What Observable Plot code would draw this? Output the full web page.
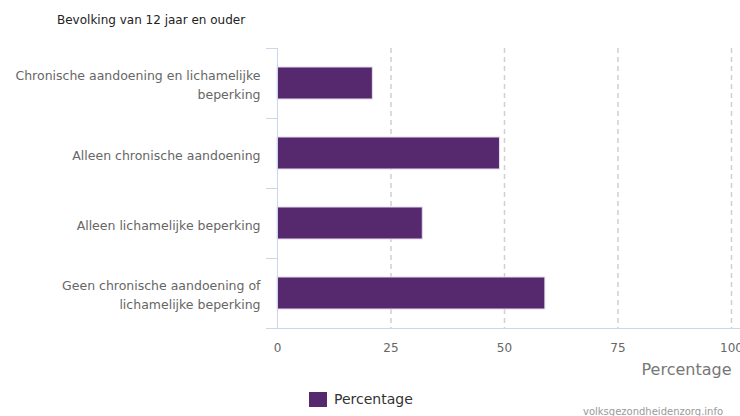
<!DOCTYPE html>
<html>
<head>
<meta charset="utf-8">
<script src="https://cdn.jsdelivr.net/npm/d3@7"></script>
<script src="https://cdn.jsdelivr.net/npm/@observablehq/plot@0.6"></script>
<style>
  html, body { margin: 0; padding: 0; background: #fff; }
  body { width: 740px; height: 416px; position: relative; overflow: hidden; font-family: "DejaVu Sans", Verdana, sans-serif; }
  #title { position: absolute; left: 57px; top: 13px; font-size: 12px; color: #222; z-index: 2; }
  #chart { position: absolute; left: 0; top: 0; z-index: 1; }
  #legend { position: absolute; left: 309px; top: 391px; font-size: 14px; color: #333; display: flex; align-items: center; z-index: 2; }
  #legend .sw { width: 18px; height: 15px; background: #56296e; margin-right: 7px; }
  #credit { position: absolute; left: 583px; top: 406px; font-size: 10px; color: #999; z-index: 2; }
</style>
</head>
<body>
<div id="title">Bevolking van 12 jaar en ouder</div>
<div id="chart"></div>
<div id="legend"><div class="sw"></div><span>Percentage</span></div>
<div id="credit">volksgezondheidenzorg.info</div>
<script>
const categories = [
  "Chronische aandoening en lichamelijke beperking",
  "Alleen chronische aandoening",
  "Alleen lichamelijke beperking",
  "Geen chronische aandoening of lichamelijke beperking"
];
const labels = [
  "Chronische aandoening en lichamelijke\nbeperking",
  "Alleen chronische aandoening",
  "Alleen lichamelijke beperking",
  "Geen chronische aandoening of\nlichamelijke beperking"
];
const values = [21, 49, 32, 59];
const xTicks = [0, 25, 50, 75, 100];
const xLabel = "Percentage";

const data = categories.map((c, i) => ({category: c, value: values[i]}));
const labelOf = new Map(categories.map((c, i) => [c, labels[i]]));

const axisColor = "#ccd6eb";

function bandFrame(index, scales, values, dims) {
  const y = scales.y, x = scales.x;
  const g = d3.create("svg:g");
  const step = y.step ? y.step() : (dims.height - dims.marginTop - dims.marginBottom) / categories.length;
  const bw = y.bandwidth ? y.bandwidth() : 0;
  const x0 = x(0);
  const top = y(categories[0]) - (step - bw) / 2;
  g.append("line").attr("x1", x0 + 0.5).attr("x2", x0 + 0.5)
    .attr("y1", top).attr("y2", top + step * categories.length)
    .attr("stroke", axisColor);
  for (let i = 0; i <= categories.length; i++) {
    const yy = Math.round(top + step * i) + 0.5;
    g.append("line").attr("x1", x0 - 11).attr("x2", x0)
      .attr("y1", yy).attr("y2", yy).attr("stroke", axisColor);
  }
  const yb = Math.round(top + step * categories.length) + 0.5;
  g.append("line").attr("x1", x0 - 11).attr("x2", dims.width)
    .attr("y1", yb).attr("y2", yb).attr("stroke", axisColor);
  return g.node();
}

const chart = Plot.plot({
  width: 740,
  height: 416,
  marginTop: 48,
  marginBottom: 87,
  marginLeft: 277,
  marginRight: 9,
  style: {fontFamily: "DejaVu Sans, Verdana, sans-serif", background: "transparent"},
  x: {domain: [0, 100]},
  y: {domain: categories, paddingInner: 0.54, paddingOuter: 0.27, align: 0.5},
  marks: [
    Plot.ruleX(xTicks.filter(d => d > 0), {stroke: "#d0d0d0", strokeDasharray: "5,4", strokeWidth: 1.5}),
    Plot.barX(data, {y: "category", x: "value", fill: "#56296e", stroke: "#e6dcec", strokeWidth: 1}),
    bandFrame,
    Plot.axisX({ticks: xTicks, tickSize: 0, tickPadding: 14, fontSize: 12, color: "#666", label: null}),
    Plot.text([xLabel], {frameAnchor: "bottom-right", dy: 45, fontSize: 16, fill: "#777", textAnchor: "end"}),
    Plot.axisY({tickSize: 0, tickPadding: 17, fontSize: 12.5, color: "#666", label: null,
      tickFormat: d => labelOf.get(d), lineHeight: 1.5})
  ]
});
document.getElementById("chart").appendChild(chart);
</script>
</body>
</html>
